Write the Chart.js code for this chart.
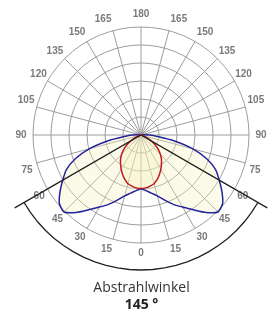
<!DOCTYPE html>
<html>
<head>
<meta charset="utf-8">
<style>
  html, body { margin: 0; padding: 0; background: #fff; }
  #wrap { width: 277px; height: 315px; }
</style>
<script src="https://cdn.jsdelivr.net/npm/chart.js@4"></script>
</head>
<body>
<div id="wrap"><canvas id="ldc"></canvas></div>
<script>
// gamma angles 0..180 in 5 deg steps, bottom = 0, top = 180
const gammaAngles = [0, 5, 10, 15, 20, 25, 30, 35, 40, 45, 50, 55, 60, 65, 70, 75, 80, 85, 90,
    95, 100, 105, 110, 115, 120, 125, 130, 135, 140, 145, 150, 155, 160, 165, 170, 175, 180];
// intensity in ring units (6 rings)
const bluePlane = [3.0, 3.1, 3.28, 3.5, 3.85, 4.25, 4.62, 5.07, 5.62, 6.05, 5.92, 5.49, 5.02, 4.58, 3.9, 2.98, 1.85, 0.9, 0.5,
    0.2, 0, 0, 0, 0, 0, 0, 0, 0, 0, 0, 0, 0, 0, 0, 0, 0, 0];
const redPlane = [2.97, 2.95, 2.88, 2.8, 2.63, 2.42, 2.2, 1.98, 1.77, 1.52, 1.25, 0.97, 0.65, 0.38, 0.18, 0.06, 0, 0, 0,
    0, 0, 0, 0, 0, 0, 0, 0, 0, 0, 0, 0, 0, 0, 0, 0, 0, 0];
const labelStep = 15;
const beamHalfAngle = 60;
const beamLineLength = 8.1;
const beamArcRadius = 7.5;
const beamCaption = 'Abstrahlwinkel';
const beamValue = '145 °';

// label gap per angle so the numbers sit centred on one radius, like the original
const labelPad = { 180: 7, 165: 6, 150: 3.3, 135: 1.9, 120: 0.8, 105: 2.3, 90: 6.4, 75: 4.3, 60: 3.2, 45: 2.3, 30: 2.8, 15: 3.7, 0: 4 };

// full circle, clockwise from the top: 180 .. 0 .. 175
const ring = [];
for (let k = 0; k < 72; k++) ring.push(k <= 36 ? 180 - 5 * k : 5 * k - 180);
const pick = (arr) => ring.map(g => arr[gammaAngles.indexOf(g)]);

const ctx = document.getElementById('ldc').getContext('2d');
new Chart(ctx, {
    type: 'radar',
    data: {
        labels: ring.map(g => g % labelStep === 0 ? String(g) : ''),
        datasets: [
            { data: ring.map(g => g === beamHalfAngle ? beamLineLength : 0), borderColor: '#222', borderWidth: 1.3, fill: false, tension: 0, clip: false },
            { data: ring.map(g => g <= beamHalfAngle ? beamArcRadius : null), borderColor: '#222', borderWidth: 1.3, fill: false, tension: 0, spanGaps: false, clip: false },
            { data: pick(redPlane), borderColor: '#c01a22', backgroundColor: 'rgba(245,238,185,0.32)', borderWidth: 1.5, fill: true, tension: 0.2, clip: false },
            { data: pick(bluePlane), borderColor: '#23239a', backgroundColor: 'rgba(245,238,185,0.32)', borderWidth: 1.5, fill: true, tension: 0.2, clip: false }
        ]
    },
    options: {
        responsive: true, maintainAspectRatio: false, animation: false, events: [],
        layout: { padding: { top: 7, left: 6, right: 0, bottom: 0 } },
        elements: { point: { radius: 0 } },
        scales: {
            r: {
                min: 0, max: 6,
                ticks: { stepSize: 1, display: false },
                grid: { circular: true, color: '#9c9c9c', lineWidth: 1 },
                angleLines: {
                    color: (c) => (c.index % 3 === 0 ? '#9c9c9c' : 'rgba(0,0,0,0)'),
                    lineWidth: (c) => (c.index % 3 === 0 ? 1 : 0)
                },
                pointLabels: {
                    padding: (c) => labelPad[ring[c.index]] ?? 4,
                    color: '#7a7a7a',
                    font: { family: 'Liberation Sans', size: 10, weight: 'bold' }
                }
            }
        },
        plugins: {
            legend: { display: false },
            tooltip: { enabled: false },
            subtitle: { display: true, position: 'bottom', text: beamCaption, color: '#333', font: { family: 'Open Sans', size: 14 }, padding: { top: 18, bottom: 0 } },
            title: { display: true, position: 'bottom', text: beamValue, color: '#222', font: { family: 'Open Sans', size: 14, weight: 'bold' }, padding: { top: 0, bottom: 2 } }
        }
    }
});
</script>
</body>
</html>
